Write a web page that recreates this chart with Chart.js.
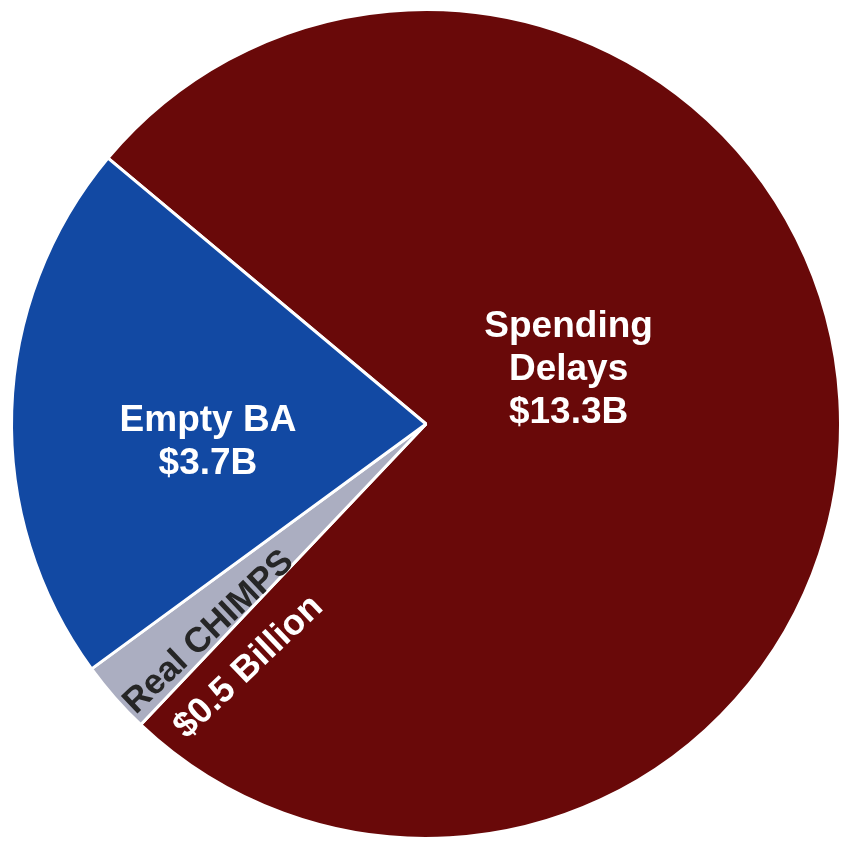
<!DOCTYPE html>
<html>
<head>
<meta charset="utf-8">
<script src="https://cdn.jsdelivr.net/npm/chart.js@4.4.1/dist/chart.umd.min.js"></script>
<style>
  html, body { margin: 0; padding: 0; background: #ffffff; }
  #wrap { width: 842px; height: 842px; }
</style>
</head>
<body>
<div id="wrap"><canvas id="pie" width="842" height="842"></canvas></div>
<script>
// Budget breakdown, in billions of dollars (clockwise from the upper-left edge)
const categories = ['Spending Delays', 'Real CHIMPS', 'Empty BA'];
const amounts = [13.3, 0.5, 3.7];
const sliceColors = ['#690909', '#abaec1', '#1249a3'];

// Slice caption text, one array per slice
const labelLines = [
  ['Spending', 'Delays', '$13.3B'],
  ['Real CHIMPS', '$0.5 Billion'],
  ['Empty BA', '$3.7B']
];

const FONT = 'bold 37px "Liberation Sans", Arial, sans-serif';

// draws the slice captions on top of the arcs
const sliceLabels = {
  id: 'sliceLabels',
  afterDatasetsDraw(chart) {
    const ctx = chart.ctx;
    const arc = chart.getDatasetMeta(0).data[0];
    const cx = arc.x, cy = arc.y, r = arc.outerRadius;
    ctx.save();
    ctx.textAlign = 'center';
    ctx.textBaseline = 'middle';
    ctx.font = FONT;

    // Spending Delays
    ctx.fillStyle = '#ffffff';
    labelLines[0].forEach((t, i) => {
      ctx.fillText(t, cx + r * 0.344, cy - r * 0.13 + (i - 1) * 43);
    });

    // Empty BA
    labelLines[2].forEach((t, i) => {
      ctx.fillText(t, cx - r * 0.526, cy + r * 0.045 + (i - 0.5) * 43);
    });

    // Real CHIMPS, rotated along the thin slice
    const ang = -43.5 * Math.PI / 180;
    const place = (text, a, dist, color, font) => {
      const rad = a * Math.PI / 180;
      ctx.save();
      ctx.translate(cx + Math.cos(rad) * r * dist, cy + Math.sin(rad) * r * dist);
      ctx.rotate(ang);
      ctx.font = font;
      ctx.fillStyle = color;
      ctx.fillText(text, 0, 0);
      ctx.restore();
    };
    place(labelLines[1][0], 136.2, 0.726, '#262626', 'bold 35px "Liberation Sans", Arial, sans-serif');
    place(labelLines[1][1], 126.1, 0.726, '#ffffff', 'bold 36px "Liberation Sans", Arial, sans-serif');
    ctx.restore();
  }
};

new Chart(document.getElementById('pie'), {
  type: 'pie',
  data: {
    labels: categories,
    datasets: [{
      data: amounts,
      backgroundColor: sliceColors,
      borderColor: '#ffffff',
      borderWidth: 3
    }]
  },
  options: {
    responsive: false,
    animation: false,
    rotation: -50.1,
    layout: { padding: { left: 10, right: -6, top: 6, bottom: 0 } },
    plugins: {
      legend: { display: false },
      tooltip: { enabled: false }
    }
  },
  plugins: [sliceLabels]
});
</script>
</body>
</html>
